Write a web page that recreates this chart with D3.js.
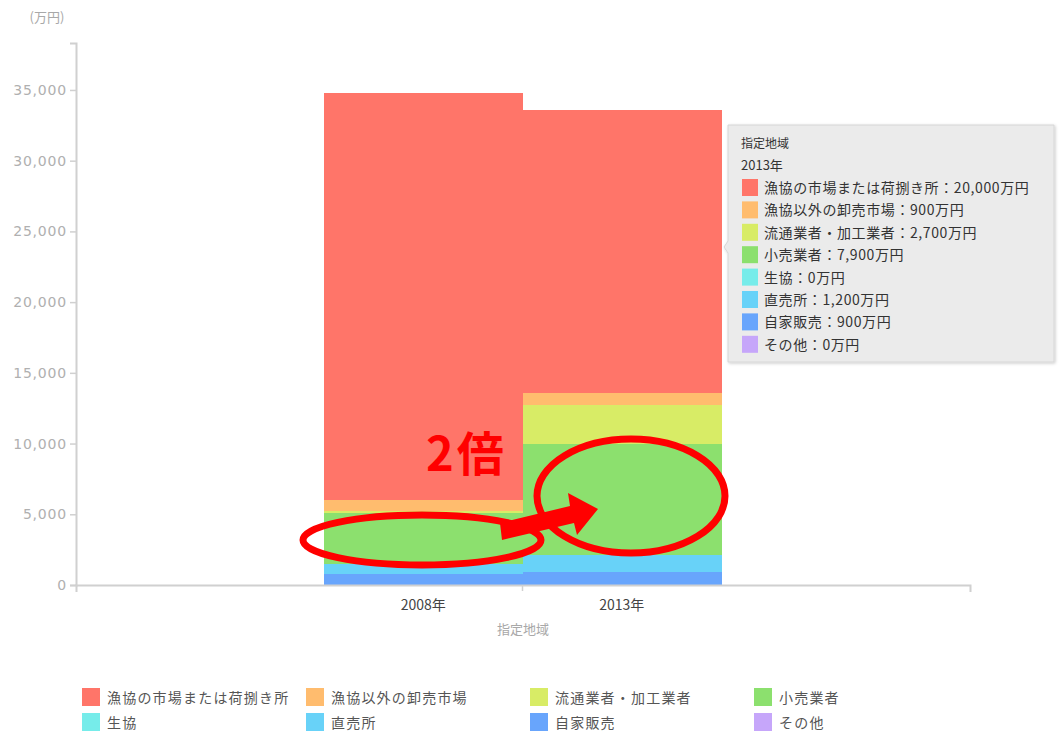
<!DOCTYPE html>
<html>
<head>
<meta charset="utf-8">
<script src="https://cdn.jsdelivr.net/npm/d3@7"></script>
<style>
  body { margin: 0; background: #fff; }
  svg { font-family: "Noto Sans CJK JP", "DejaVu Sans", sans-serif; }
</style>
</head>
<body>
<div id="chart"></div>
<script>
// Categories and series
const categories = ['2008年', '2013年'];
const seriesNames = ['漁協の市場または荷捌き所', '漁協以外の卸売市場', '流通業者・加工業者', '小売業者', '生協', '直売所', '自家販売', 'その他'];
const values2008 = [28800, 800, 100, 3600, 0, 700, 800, 0];
const values2013 = [20000, 900, 2700, 7900, 0, 1200, 900, 0];
const seriesColors = ['#ff7569', '#ffbc6e', '#d8ec66', '#8ce06e', '#76ecea', '#68d2f8', '#68a5fc', '#c6a6fa'];
const yTicks = [0, 5000, 10000, 15000, 20000, 25000, 30000, 35000];

const W = 1059, H = 733;

// rows for stacking
const rows = categories.map((c, i) => {
    const vals = i === 0 ? values2008 : values2013;
    const row = {category: c};
    seriesNames.forEach((s, j) => row[s] = vals[j]);
    return row;
});

const svg = d3.select("#chart")
    .append("svg")
    .attr("width", W)
    .attr("height", H);

// scales
const yScale = d3.scaleLinear()
    .domain([0, 38320])
    .range([585, 43]);

const xScale = d3.scaleBand()
    .domain(categories)
    .range([324, 721])
    .padding(0);

const colorScale = d3.scaleOrdinal()
    .domain(seriesNames)
    .range(seriesColors);

// stack: first series on top
const stack = d3.stack().keys(seriesNames.slice().reverse());
const stacked = stack(rows);

// y axis
const yAxis = d3.axisLeft(yScale)
    .tickValues(yTicks)
    .tickFormat(d3.format(","))
    .tickSizeInner(6)
    .tickSizeOuter(6)
    .tickPadding(3);

const yG = svg.append("g")
    .attr("transform", "translate(76,0)")
    .call(yAxis);
yG.select(".domain").attr("stroke", "#d0d0d0").attr("stroke-width", 2);
yG.selectAll(".tick line").attr("stroke", "#d0d0d0").attr("stroke-width", 1.5);
yG.selectAll(".tick text")
    .attr("fill", "#b0b0b0")
    .style("font-family", "DejaVu Sans")
    .style("font-size", "14px")
    .style("letter-spacing", "0.8px");

svg.append("text")
    .attr("x", 47)
    .attr("y", 22)
    .attr("text-anchor", "middle")
    .attr("fill", "#a8a8a8")
    .style("font-size", "13px")
    .text("(万円)");

// bars
svg.append("g")
    .attr("shape-rendering", "crispEdges")
    .selectAll("g")
    .data(stacked)
    .join("g")
    .attr("fill", d => colorScale(d.key))
    .selectAll("rect")
    .data(d => d)
    .join("rect")
    .attr("x", d => xScale(d.data.category))
    .attr("width", xScale.bandwidth() + 0.5)
    .attr("y", d => yScale(d[1]))
    .attr("height", d => yScale(d[0]) - yScale(d[1]));

// x axis line with end ticks
const xAxisScale = d3.scaleLinear().domain([0, 1]).range([76, 970]);
const xAxis = d3.axisBottom(xAxisScale)
    .tickValues([])
    .tickSizeOuter(7);
const xG = svg.append("g")
    .attr("transform", `translate(0,${yScale(0)})`)
    .call(xAxis);
xG.select(".domain").attr("stroke", "#d0d0d0").attr("stroke-width", 2);

// tick between categories
svg.append("line")
    .attr("x1", xScale(categories[1]))
    .attr("x2", xScale(categories[1]))
    .attr("y1", yScale(0) + 1)
    .attr("y2", yScale(0) + 6)
    .attr("stroke", "#d0d0d0")
    .attr("stroke-width", 1.5);

svg.selectAll(".xlabel")
    .data(categories)
    .join("text")
    .attr("class", "xlabel")
    .attr("x", d => xScale(d) + xScale.bandwidth() / 2)
    .attr("y", 610)
    .attr("text-anchor", "middle")
    .attr("fill", "#444")
    .style("font-size", "14px")
    .text(d => d);

svg.append("text")
    .attr("x", 523)
    .attr("y", 634)
    .attr("text-anchor", "middle")
    .attr("fill", "#a8a8a8")
    .style("font-size", "13px")
    .text("指定地域");

// annotation: ellipses, arrow, "2倍"
const ann = svg.append("g");
ann.append("ellipse")
    .attr("cx", 422).attr("cy", 540)
    .attr("rx", 119).attr("ry", 25)
    .attr("fill", "none")
    .attr("stroke", "#ff0000")
    .attr("stroke-width", 7);
ann.append("ellipse")
    .attr("cx", 631).attr("cy", 496)
    .attr("rx", 94).attr("ry", 57)
    .attr("fill", "none")
    .attr("stroke", "#ff0000")
    .attr("stroke-width", 7);
ann.append("polygon")
    .attr("points", "500,523 570,506 568,493 598,509 577,535 574,523 502,540")
    .attr("fill", "#ff0000");
ann.append("text")
    .attr("x", 426)
    .attr("y", 471)
    .attr("fill", "#ff0000")
    .style("font-size", "47px")
    .style("font-weight", "bold")
    .style("letter-spacing", "3px")
    .text("2倍");

// tooltip
const tip = svg.append("g").attr("transform", "translate(724,125)");
const defs = svg.append("defs");
const filter = defs.append("filter").attr("id", "shadow").attr("x", "-10%").attr("y", "-10%").attr("width", "130%").attr("height", "130%");
filter.append("feDropShadow").attr("dx", 1).attr("dy", 1).attr("stdDeviation", 1.5).attr("flood-color", "#000").attr("flood-opacity", 0.2);

tip.append("path")
    .attr("d", "M4,0 H330 V237 H4 V128 L0,122 L4,116 Z")
    .attr("fill", "#ebebeb")
    .attr("stroke", "#d6d6d6")
    .attr("filter", "url(#shadow)");
tip.append("text")
    .attr("x", 17).attr("y", 23)
    .attr("fill", "#333")
    .style("font-size", "12px")
    .text("指定地域");
tip.append("text")
    .attr("x", 17).attr("y", 45)
    .attr("fill", "#333")
    .style("font-size", "13px")
    .text(categories[1]);

const tipRows = tip.selectAll(".tiprow")
    .data(seriesNames)
    .join("g")
    .attr("class", "tiprow")
    .attr("transform", (d, i) => `translate(18,${54 + i * 22.4})`);
tipRows.append("rect")
    .attr("width", 16).attr("height", 17)
    .attr("fill", d => colorScale(d));
tipRows.append("text")
    .attr("x", 22).attr("y", 14)
    .attr("fill", "#333")
    .style("font-size", "14px")
    .style("letter-spacing", "0.6px")
    .text((d, i) => `${d}：${d3.format(",")(values2013[i])}万円`);

// legend
const legend = svg.selectAll(".legend")
    .data(seriesNames)
    .join("g")
    .attr("class", "legend")
    .attr("transform", (d, i) => `translate(${82 + (i % 4) * 224},${688 + Math.floor(i / 4) * 25})`);
legend.append("rect")
    .attr("width", 18).attr("height", 18)
    .attr("fill", d => colorScale(d));
legend.append("text")
    .attr("x", 25).attr("y", 15)
    .attr("fill", "#555")
    .style("font-size", "14px")
    .style("letter-spacing", "1.2px")
    .text(d => d);
</script>
</body>
</html>
